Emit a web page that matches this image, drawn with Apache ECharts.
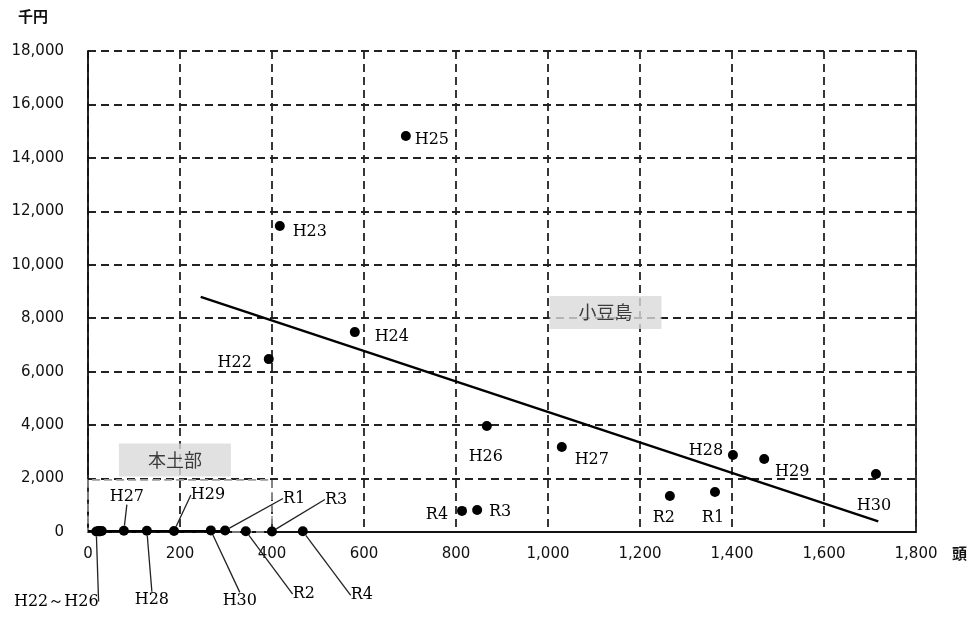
<!DOCTYPE html>
<html><head><meta charset="utf-8">
<script src="https://cdn.jsdelivr.net/npm/echarts@6/dist/echarts.min.js"></script>
<style>html,body{margin:0;padding:0;background:#fff}#c{width:974px;height:619px}</style>
</head><body><div id="c"></div>
<script>
// ---- data ----
const shodoNames = ['H22','H23','H24','H25','H26','H27','H28','H29','H30','R1','R2','R3','R4'];
const shodoHead  = [393, 417, 580, 691, 867, 1030, 1402, 1470, 1713, 1363, 1265, 846, 813];
const shodoSales = [6470, 11450, 7480, 14820, 3970, 3180, 2880, 2730, 2170, 1500, 1350, 820, 790];

const mainNames = ['H22','H23','H24','H25','H26','H27','H28','H29','H30','R1','R2','R3','R4'];
const mainHead  = [18, 22, 26, 30, 24, 78, 128, 187, 267, 298, 343, 400, 467];
const mainSales = [20, 30, 25, 40, 35, 50, 45, 40, 60, 55, 30, 20, 25];
const mainLabels = ['H22～H26','','','','','H27','H28','H29','H30','R1','R2','R3','R4'];

const shodoTrendHead = [245, 1718];
const shodoTrendSales = [8800, 400];
const mainTrendHead = [0, 300];
const mainTrendSales = [20, 20];

const regionNames = ['本土部', '小豆島'];
const regionHead  = [189, 1125];
const regionSales = [2690, 8210];

const mainBoxHead = [0, 400];
const mainBoxSales = [-350, 1950];

const xTicks = [0, 200, 400, 600, 800, 1000, 1200, 1400, 1600, 1800];
const yTicks = [0, 2000, 4000, 6000, 8000, 10000, 12000, 14000, 16000, 18000];

// ---- label offsets (style, px) ----
const shodoLabelOffset = [[-34,4],[30,6],[37,5],[26,4],[-1,31],[30,13],[-27,-4],[28,13],[-2,32],[-2,26],[-6,22],[23,2],[-25,4]];
const mainLabelOffset = [[-40,70],[0,0],[0,0],[0,0],[0,0],[3,-34],[5,69],[34,-36],[29,70],[69,-32],[58,63],[64,-32],[59,64]];

const fmt = v => v.toLocaleString('en-US');
const labelFont = {fontFamily: 'DejaVu Serif', fontSize: 16, color: '#000'};
const gridLine = {show: true, lineStyle: {color: '#222', width: 1.8, type: [8, 5]}};

const chart = echarts.init(document.getElementById('c'), null, {renderer: 'canvas'});
chart.setOption({
  animation: false,
  backgroundColor: '#fff',
  grid: {left: 88, right: 58, top: 51, bottom: 87},
  xAxis: {
    type: 'value', min: xTicks[0], max: xTicks[xTicks.length-1], interval: 200,
    axisLine: {show: true, onZero: false, lineStyle: {color: '#111', width: 1.8}},
    axisTick: {show: false},
    axisLabel: {formatter: fmt, margin: 15, color: '#111', fontFamily: 'DejaVu Sans', fontSize: 15},
    splitLine: gridLine
  },
  yAxis: [{
    type: 'value', min: yTicks[0], max: yTicks[yTicks.length-1], interval: 2000,
    axisLine: {show: true, lineStyle: {color: '#111', width: 1.8}},
    axisTick: {show: false},
    axisLabel: {formatter: fmt, margin: 24, color: '#111', fontFamily: 'DejaVu Sans', fontSize: 15},
    splitLine: gridLine
  }, {
    type: 'value', position: 'right', min: yTicks[0], max: yTicks[yTicks.length-1], interval: 2000,
    axisLine: {show: true, lineStyle: {color: '#222', width: 1.8}},
    axisTick: {show: false}, axisLabel: {show: false}, splitLine: {show: false}
  }],
  graphic: [
    {type: 'text', left: 18, top: 9, style: {text: '千円', font: 'bold 15px "Noto Sans CJK JP"', fill: '#111'}},
    {type: 'text', left: 952, top: 546, style: {text: '頭', font: 'bold 15px "Noto Sans CJK JP"', fill: '#111'}}
  ],
  series: [
    {
      name: 'box', type: 'scatter', data: [], clip: false, silent: true,
      markArea: {
        silent: true,
        itemStyle: {color: 'rgba(255,255,255,0)', borderColor: '#999', borderWidth: 1.6, borderType: [8, 4]},
        data: [[{coord: [mainBoxHead[0], mainBoxSales[0]]}, {coord: [mainBoxHead[1], mainBoxSales[1]]}]]
      }
    },
    {
      name: 'trendShodo', type: 'line', symbol: 'none', silent: true,
      data: shodoTrendHead.map((h, i) => [h, shodoTrendSales[i]]),
      lineStyle: {color: '#000', width: 2.4}
    },
    {
      name: 'trendMain', type: 'line', symbol: 'none', silent: true, clip: false,
      data: mainTrendHead.map((h, i) => [h, mainTrendSales[i]]),
      lineStyle: {color: '#000', width: 2.8}
    },
    {
      name: '小豆島', type: 'scatter', symbolSize: 10, clip: false,
      itemStyle: {color: '#000', opacity: 1},
      data: shodoHead.map((h, i) => ({value: [h, shodoSales[i]], name: shodoNames[i]})),
      label: {show: true, position: 'inside', formatter: p => p.name, ...labelFont},
      labelLayout: p => ({dx: shodoLabelOffset[p.dataIndex][0], dy: shodoLabelOffset[p.dataIndex][1]})
    },
    {
      name: '本土部', type: 'scatter', symbolSize: 10, clip: false,
      itemStyle: {color: '#000', opacity: 1},
      data: mainHead.map((h, i) => ({value: [h, mainSales[i]], name: mainLabels[i]})),
      label: {show: true, position: 'inside', formatter: p => p.name, ...labelFont},
      labelLine: {show: true, lineStyle: {color: '#222', width: 1.3}},
      labelLayout: p => ({dx: mainLabelOffset[p.dataIndex][0], dy: mainLabelOffset[p.dataIndex][1]})
    },
    {
      name: 'regions', type: 'scatter', symbolSize: 0, silent: true,
      data: regionHead.map((h, i) => ({value: [h, regionSales[i]], name: regionNames[i]})),
      label: {
        show: true, position: 'inside', formatter: p => p.name,
        fontFamily: 'Noto Sans CJK JP', fontSize: 18, color: '#111',
        backgroundColor: '#d9d9d9', padding: [8, 29, 7, 29]
      }
    }
  ]
});
</script></body></html>
